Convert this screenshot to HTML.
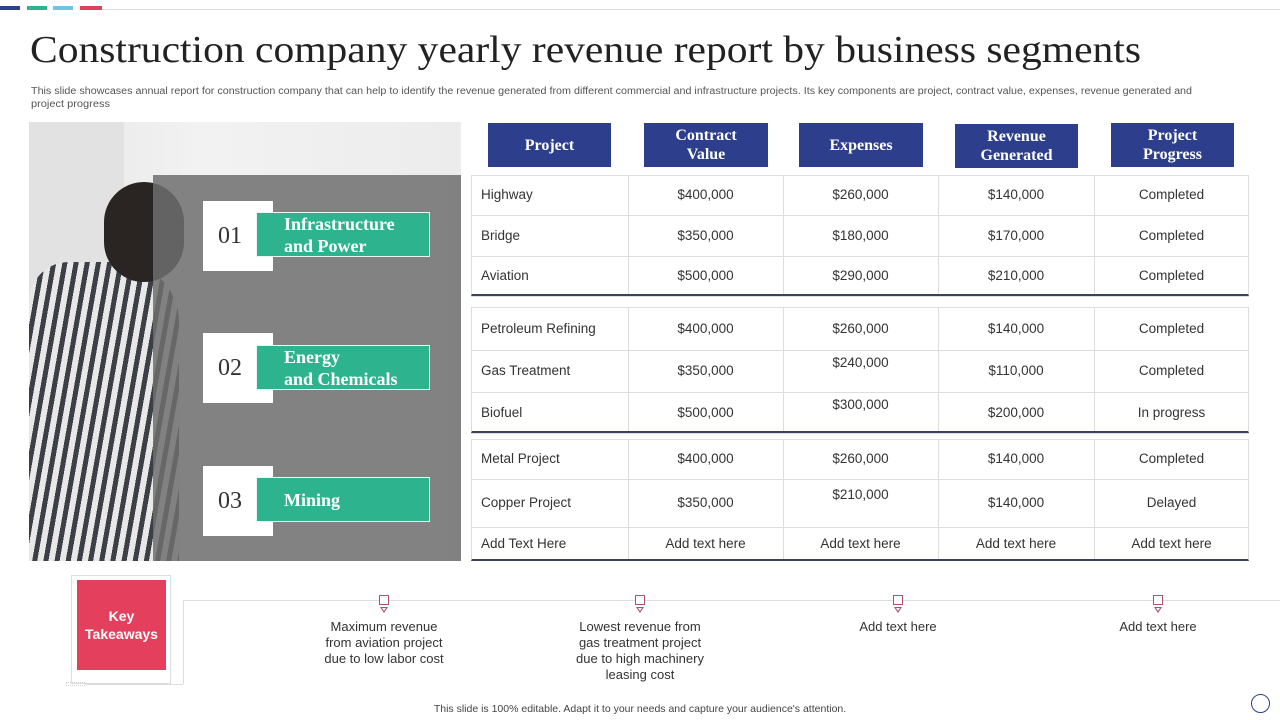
<!DOCTYPE html>
<html><head><meta charset="utf-8"><style>
body{margin:0;width:1280px;height:720px;position:relative;background:#fff;font-family:"Liberation Sans",sans-serif;overflow:hidden}
.a{position:absolute}
.hd{position:absolute;background:#2d3e8c;color:#fff;font-family:"Liberation Serif",serif;font-weight:bold;font-size:16px;text-align:center;display:flex;align-items:center;justify-content:center;line-height:19px}
.cell{position:absolute;font-size:13.5px;color:#333;}
.tk{position:absolute;font-size:13px;color:#333;text-align:center;line-height:16px;width:170px}
.mk{position:absolute;width:8px;height:8px;border:1px solid #b0506a;background:#fff}
.tri{position:absolute;width:0;height:0;border-left:4px solid transparent;border-right:4px solid transparent;border-top:6px solid #b0506a}
.tri::after{content:"";position:absolute;left:-2px;top:-5px;border-left:2px solid transparent;border-right:2px solid transparent;border-top:3px solid #fff}
.num{position:absolute;background:#fff;width:70px;height:70px;font-family:"Liberation Serif",serif;font-size:24px;color:#333;display:flex;align-items:center;justify-content:center;box-sizing:border-box;padding-right:16px}
.seg{position:absolute;background:#2db48f;border:1px solid #e8f5f0;width:174px;height:45px;box-sizing:border-box;color:#fff;font-family:"Liberation Serif",serif;font-weight:bold;font-size:18px;line-height:22px;padding-left:27px;display:flex;align-items:center}
</style></head><body>
<div class="a" style="left:0;top:6px;width:20px;height:4px;background:#2d3e8c"></div>
<div class="a" style="left:27px;top:6px;width:20px;height:4px;background:#2db48f"></div>
<div class="a" style="left:53px;top:6px;width:20px;height:4px;background:#6ec6e6"></div>
<div class="a" style="left:80px;top:6px;width:22px;height:4px;background:#e0405c"></div>
<div class="a" style="left:102px;top:9px;width:1178px;height:1px;background:#ddd"></div>

<svg class="a" style="left:0;top:0" width="1280" height="115">
<text x="30" y="62" font-family="Liberation Serif,serif" font-size="38" fill="#222" textLength="1111" lengthAdjust="spacingAndGlyphs">Construction company yearly revenue report by business segments</text>
<text x="31" y="94" font-family="Liberation Sans,sans-serif" font-size="10" fill="#555" textLength="1161" lengthAdjust="spacingAndGlyphs">This slide showcases annual report for construction company that can help to identify the revenue generated from different commercial and infrastructure projects. Its key components are project, contract value, expenses, revenue generated and</text>
<text x="31" y="107" font-family="Liberation Sans,sans-serif" font-size="10" fill="#555" textLength="79" lengthAdjust="spacingAndGlyphs">project progress</text>
</svg>

<!-- photo -->
<div class="a" style="left:29px;top:122px;width:432px;height:439px;background:linear-gradient(90deg,#e6e6e6,#f2f2f2 40%,#ececec);overflow:hidden">
 <div class="a" style="left:0;top:0;width:95px;height:439px;background:#e2e2e2"></div>
 <div class="a" style="left:0;top:140px;width:150px;height:300px;border-radius:40px 60px 0 0;background:repeating-linear-gradient(100deg,#3c3f45 0 5px,#e8e8e8 5px 11px)"></div>
 <div class="a" style="left:75px;top:60px;width:80px;height:100px;border-radius:40px;background:#2a2522"></div>
</div>
<div class="a" style="left:153px;top:175px;width:308px;height:386px;background:rgba(110,110,110,0.85)"></div>

<div class="num" style="left:203px;top:201px">01</div>
<div class="seg" style="left:256px;top:212px">Infrastructure<br>and Power</div>
<div class="num" style="left:203px;top:333px">02</div>
<div class="seg" style="left:256px;top:345px">Energy<br>and Chemicals</div>
<div class="num" style="left:203px;top:466px">03</div>
<div class="seg" style="left:256px;top:477px">Mining</div>

<!-- headers -->
<div class="hd" style="left:488px;top:123px;width:123px;height:44px">Project</div>
<div class="hd" style="left:644px;top:123px;width:124px;height:44px">Contract<br>Value</div>
<div class="hd" style="left:799px;top:123px;width:124px;height:44px">Expenses</div>
<div class="hd" style="left:955px;top:124px;width:123px;height:44px">Revenue<br>Generated</div>
<div class="hd" style="left:1111px;top:123px;width:123px;height:44px">Project<br>Progress</div>

<div id="table"></div>

<!-- takeaways -->
<div class="a" style="left:71px;top:575px;width:100px;height:109px;border:1px solid #ddd;box-sizing:border-box"></div>
<div class="a" style="left:77px;top:580px;width:89px;height:90px;background:#e4405e;color:#fff;font-weight:bold;font-size:14px;line-height:18px;display:flex;align-items:center;justify-content:center;text-align:center">Key<br>Takeaways</div>
<div class="a" style="left:183px;top:600px;width:1097px;height:1px;background:#ddd"></div>
<div class="a" style="left:183px;top:600px;width:1px;height:84px;background:#ddd"></div>
<div class="a" style="left:85px;top:684px;width:98px;height:1px;background:#ddd"></div>
<div class="a" style="left:66px;top:682px;width:19px;height:4px;font-size:0;border:1px dotted #ccc;box-sizing:border-box"></div>
<div id="tks"></div>

<div class="a" style="left:0;top:703px;width:1280px;text-align:center;font-size:10.5px;color:#444">This slide is 100% editable. Adapt it to your needs and capture your audience's attention.</div>
<div class="a" style="left:1251px;top:694px;width:19px;height:19px;border:1px solid #2d3e8c;border-radius:50%;box-sizing:border-box"></div>

<script>
const projects=["Highway","Bridge","Aviation","Petroleum Refining","Gas Treatment","Biofuel","Metal Project","Copper Project","Add Text Here"];
const contractValues=["$400,000","$350,000","$500,000","$400,000","$350,000","$500,000","$400,000","$350,000","Add text here"];
const expenses=["$260,000","$180,000","$290,000","$260,000","$240,000","$300,000","$260,000","$210,000","Add text here"];
const revenues=["$140,000","$170,000","$210,000","$140,000","$110,000","$200,000","$140,000","$140,000","Add text here"];
const progress=["Completed","Completed","Completed","Completed","Completed","In progress","Completed","Delayed","Add text here"];
const rowEdges=[[175,215],[215,256],[256,296],[307,350],[350,392],[392,433],[439,479],[479,527],[527,561]];
const groupEdges=[[175,296],[307,433],[439,561]];
const colX=[471,628,783,938,1094,1249];
const raised=[false,false,false,false,true,true,false,true,false];
const T=document.getElementById('table');
groupEdges.forEach((g,i)=>{
 const d=document.createElement('div');d.className='a';
 
 
 d.style.cssText=`left:${colX[0]}px;top:${g[0]}px;width:${colX[5]-colX[0]}px;height:${g[1]-g[0]}px;border:1px solid #ddd;border-bottom:2px solid #3a4260;box-sizing:border-box`;
 T.appendChild(d);
 for(let c=1;c<5;c++){const v=document.createElement('div');v.className='a';v.style.cssText=`left:${colX[c]}px;top:${g[0]}px;width:1px;height:${g[1]-g[0]-2}px;background:#ddd`;T.appendChild(v);}
});
const cols=[projects,contractValues,expenses,revenues,progress];
rowEdges.forEach((r,i)=>{
 const g=groupEdges.find(g=>r[1]<g[1]);
 if(g){const h=document.createElement('div');h.className='a';h.style.cssText=`left:${colX[0]}px;top:${r[1]}px;width:${colX[5]-colX[0]}px;height:1px;background:#ddd`;T.appendChild(h);}
 cols.forEach((arr,c)=>{
  const e=document.createElement('div');e.className='cell';
  
  
  const mid=(r[0]+r[1])/2 - ((c==2&&raised[i])?8:0);
  e.style.top=(mid-8)+'px';
  if(c==0){e.style.left=(colX[0]+10)+'px';}
  else{e.style.left=colX[c]+'px';e.style.width=(colX[c+1]-colX[c])+'px';e.style.textAlign='center';}
  e.textContent=arr[i];T.appendChild(e);
 });
});
const tkText=["Maximum revenue<br>from aviation  project<br>due to low labor cost","Lowest revenue  from<br>gas treatment project<br>due to high machinery<br>leasing cost","Add text here","Add text here"];
const tkX=[384,640,898,1158];
const K=document.getElementById('tks');
tkX.forEach((x,i)=>{
 const m=document.createElement('div');m.className='mk';m.style.left=(x-5)+'px';m.style.top='595px';
 
 
 K.appendChild(m);
 const t=document.createElement('div');t.className='tri';t.style.left=(x-4)+'px';t.style.top='607px';K.appendChild(t);
 const d=document.createElement('div');d.className='tk';d.style.left=(x-85)+'px';d.style.top='619px';
 
 
 d.innerHTML=tkText[i];K.appendChild(d);
});
</script>
</body></html>
